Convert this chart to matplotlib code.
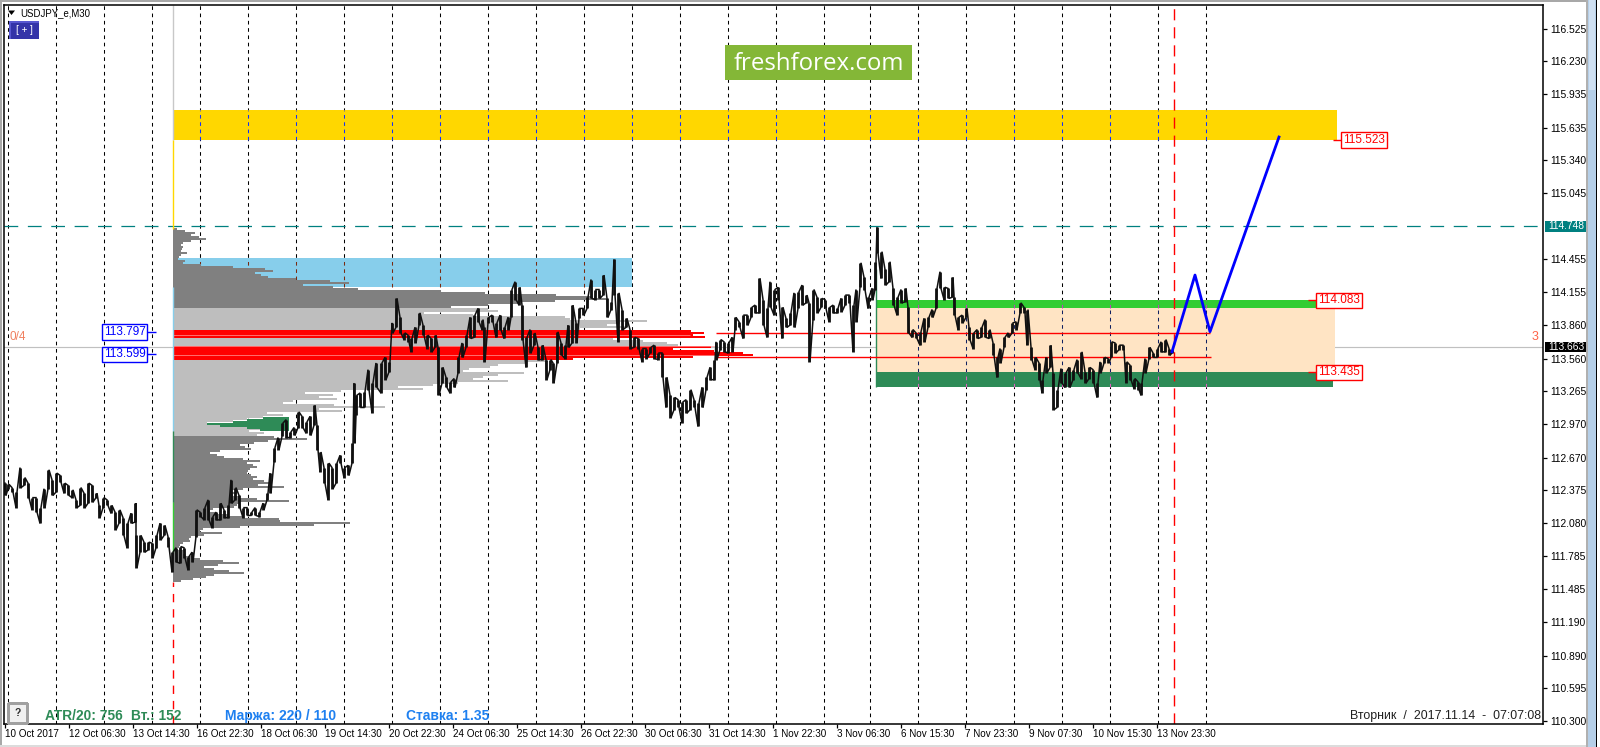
"""
USDJPY_e M30 terminal screenshot: price line, volume profile, zones and forecast.
"""
import numpy as np
import matplotlib
matplotlib.use("Agg")
import matplotlib.pyplot as plt
from matplotlib.patches import Rectangle, Polygon

plt.rcParams["font.family"] = ["Liberation Sans", "DejaVu Sans"]

W, H = 1600, 747

# ================================================
# Data
# ================================================
bar_x = [5, 8, 12, 16, 20, 24, 28, 32, 36, 40,
         44, 48, 52, 56, 60, 64, 68, 72, 76, 80,
         84, 88, 92, 96, 99, 103, 107, 111, 115, 119,
         123, 127, 131, 135, 136, 140, 144, 148, 152, 156,
         160, 164, 168, 172, 176, 180, 184, 188, 192, 196,
         200, 204, 208, 212, 216, 220, 224, 228, 231, 235,
         239, 243, 247, 251, 255, 259, 263, 267, 270, 274,
         278, 282, 286, 290, 294, 298, 302, 306, 310, 314,
         317, 320, 324, 328, 332, 336, 340, 344, 348, 352,
         354, 356, 360, 364, 368, 372, 376, 381, 385, 389,
         392, 396, 400, 404, 408, 411, 415, 419, 423, 427,
         431, 435, 438, 442, 446, 450, 454, 458, 462, 466,
         470, 474, 478, 482, 484, 488, 492, 496, 500, 504,
         508, 511, 515, 519, 522, 526, 530, 534, 538, 542,
         546, 550, 553, 557, 561, 565, 568, 572, 576, 579,
         583, 587, 591, 595, 599, 603, 607, 611, 614, 618,
         622, 626, 630, 634, 638, 642, 646, 650, 654, 658,
         662, 666, 670, 674, 678, 682, 686, 690, 694, 698,
         702, 706, 710, 714, 716, 720, 724, 728, 732, 735,
         739, 743, 747, 751, 755, 759, 763, 767, 770, 774,
         778, 782, 786, 790, 794, 798, 802, 806, 809, 813,
         817, 821, 825, 829, 833, 837, 841, 845, 849, 853,
         856, 860, 864, 868, 872, 875, 877, 881, 885, 889,
         893, 897, 901, 905, 908, 912, 916, 920, 924, 928,
         932, 936, 940, 944, 948, 952, 954, 958, 962, 966,
         969, 973, 977, 981, 985, 989, 993, 997, 1000, 1004,
         1008, 1012, 1016, 1020, 1024, 1027, 1031, 1035, 1039, 1042,
         1046, 1050, 1053, 1057, 1061, 1065, 1069, 1073, 1077, 1081,
         1085, 1089, 1093, 1097, 1100, 1104, 1108, 1111, 1115, 1119,
         1123, 1126, 1130, 1134, 1138, 1141, 1145, 1149, 1153, 1157,
         1161, 1165, 1169, 1172]
bar_high = [112.44, 112.43, 112.40, 112.36, 112.58, 112.49, 112.44, 112.31, 112.31, 112.22,
            112.39, 112.56, 112.47, 112.53, 112.51, 112.44, 112.42, 112.38, 112.29, 112.40,
            112.35, 112.44, 112.42, 112.35, 112.24, 112.31, 112.29, 112.24, 112.18, 112.20,
            112.13, 112.08, 112.17, 112.26, 111.97, 111.97, 111.91, 111.91, 111.90, 111.97,
            112.08, 112.06, 111.96, 111.82, 111.86, 111.87, 111.86, 111.78, 111.82, 112.20,
            112.18, 112.22, 112.29, 112.14, 112.18, 112.26, 112.20, 112.24, 112.47, 112.40,
            112.33, 112.22, 112.22, 112.18, 112.22, 112.18, 112.26, 112.35, 112.53, 112.76,
            112.85, 112.98, 113.01, 112.90, 112.94, 113.08, 113.04, 112.99, 113.04, 113.14,
            112.96, 112.72, 112.58, 112.62, 112.58, 112.62, 112.69, 112.58, 112.60, 112.80,
            113.34, 113.23, 113.25, 113.26, 113.46, 113.34, 113.52, 113.52, 113.57, 113.53,
            113.88, 114.10, 113.93, 113.79, 113.77, 113.74, 113.84, 113.97, 113.86, 113.77,
            113.74, 113.77, 113.66, 113.48, 113.39, 113.35, 113.38, 113.57, 113.70, 113.77,
            113.93, 113.95, 114.01, 113.91, 113.84, 113.93, 113.95, 113.88, 113.95, 113.84,
            113.93, 114.18, 114.25, 114.20, 114.04, 113.75, 113.82, 113.79, 113.66, 113.68,
            113.55, 113.55, 113.52, 113.80, 113.70, 113.68, 113.86, 114.04, 113.88, 114.01,
            114.01, 114.11, 114.27, 114.18, 114.18, 114.31, 114.10, 114.07, 114.45, 114.15,
            114.00, 113.92, 113.82, 113.75, 113.74, 113.65, 113.65, 113.66, 113.68, 113.61,
            113.61, 113.39, 113.23, 113.21, 113.19, 113.17, 113.19, 113.28, 113.19, 113.16,
            113.30, 113.39, 113.48, 113.55, 113.71, 113.73, 113.71, 113.70, 113.75, 113.93,
            113.89, 113.95, 113.95, 114.02, 114.04, 114.28, 114.09, 114.01, 114.25, 114.18,
            114.20, 114.02, 113.92, 113.97, 114.15, 114.16, 114.22, 114.13, 114.06, 114.18,
            114.11, 114.10, 114.09, 114.02, 114.04, 114.01, 114.10, 114.13, 114.13, 114.04,
            114.18, 114.42, 114.29, 114.11, 114.19, 114.43, 114.74, 114.52, 114.36, 114.43,
            114.19, 114.11, 114.18, 114.19, 114.02, 113.82, 113.79, 113.80, 113.92, 113.93,
            114.00, 114.19, 114.34, 114.20, 114.19, 114.29, 114.11, 113.93, 113.95, 114.01,
            113.84, 113.79, 113.82, 113.84, 113.91, 113.82, 113.70, 113.57, 113.65, 113.75,
            113.79, 113.88, 113.89, 114.06, 114.02, 114.00, 113.66, 113.57, 113.52, 113.37,
            113.57, 113.68, 113.43, 113.28, 113.47, 113.43, 113.48, 113.46, 113.55, 113.62,
            113.44, 113.48, 113.46, 113.34, 113.53, 113.57, 113.56, 113.71, 113.70, 113.68,
            113.68, 113.53, 113.50, 113.38, 113.35, 113.34, 113.56, 113.66, 113.61, 113.65,
            113.71, 113.73, 113.65, 113.64]
bar_low = [112.33, 112.39, 112.36, 112.22, 112.40, 112.42, 112.31, 112.20, 112.18, 112.08,
           112.22, 112.39, 112.33, 112.36, 112.45, 112.35, 112.33, 112.31, 112.22, 112.24,
           112.22, 112.26, 112.27, 112.31, 112.13, 112.22, 112.24, 112.17, 112.02, 112.08,
           111.97, 111.86, 112.08, 112.09, 111.68, 111.82, 111.82, 111.84, 111.77, 111.86,
           111.93, 111.97, 111.87, 111.64, 111.73, 111.72, 111.77, 111.66, 111.73, 111.96,
           112.14, 112.11, 112.11, 112.04, 112.11, 112.11, 112.13, 112.13, 112.26, 112.29,
           112.22, 112.13, 112.15, 112.15, 112.15, 112.14, 112.20, 112.29, 112.35, 112.63,
           112.74, 112.86, 112.85, 112.85, 112.87, 112.94, 112.94, 112.89, 112.87, 112.96,
           112.74, 112.54, 112.44, 112.29, 112.39, 112.44, 112.62, 112.49, 112.51, 112.62,
           112.80, 113.05, 113.12, 113.12, 113.28, 113.07, 113.30, 113.25, 113.37, 113.44,
           113.79, 113.84, 113.79, 113.73, 113.71, 113.62, 113.70, 113.86, 113.77, 113.65,
           113.62, 113.66, 113.23, 113.34, 113.30, 113.25, 113.30, 113.43, 113.57, 113.66,
           113.74, 113.75, 113.89, 113.82, 113.53, 113.88, 113.89, 113.75, 113.82, 113.74,
           113.82, 113.93, 114.09, 114.04, 113.73, 113.48, 113.61, 113.68, 113.55, 113.55,
           113.37, 113.46, 113.34, 113.52, 113.59, 113.56, 113.66, 113.70, 113.70, 113.92,
           113.95, 114.01, 114.10, 114.09, 114.10, 114.13, 113.93, 114.00, 114.13, 113.71,
           113.82, 113.84, 113.65, 113.66, 113.65, 113.53, 113.56, 113.61, 113.56, 113.55,
           113.39, 113.12, 113.03, 113.10, 113.12, 112.98, 113.07, 113.10, 113.12, 112.95,
           113.12, 113.28, 113.37, 113.37, 113.55, 113.64, 113.62, 113.61, 113.62, 113.82,
           113.84, 113.74, 113.86, 113.93, 113.97, 113.97, 113.86, 113.75, 114.02, 113.95,
           114.09, 113.74, 113.84, 113.86, 113.84, 114.01, 114.04, 114.06, 113.53, 113.91,
           113.97, 114.02, 114.01, 113.89, 113.97, 113.97, 113.98, 114.04, 114.06, 113.62,
           113.89, 114.20, 114.18, 114.01, 114.09, 114.18, 114.51, 114.28, 114.22, 114.25,
           114.04, 113.95, 114.06, 114.07, 113.79, 113.75, 113.74, 113.68, 113.71, 113.84,
           113.93, 114.01, 114.19, 114.09, 114.10, 114.11, 113.95, 113.82, 113.88, 113.93,
           113.73, 113.65, 113.74, 113.75, 113.75, 113.74, 113.59, 113.39, 113.52, 113.66,
           113.75, 113.79, 113.82, 113.97, 113.97, 113.68, 113.55, 113.46, 113.37, 113.25,
           113.43, 113.48, 113.10, 113.12, 113.34, 113.30, 113.30, 113.37, 113.43, 113.38,
           113.34, 113.38, 113.34, 113.21, 113.43, 113.52, 113.52, 113.57, 113.61, 113.64,
           113.64, 113.34, 113.37, 113.29, 113.28, 113.23, 113.43, 113.56, 113.57, 113.57,
           113.62, 113.62, 113.59, 113.61]

# volume profile, one row per price level from the top of the range
profile_top = 114.7235
profile_step = 0.01797
profile_width = [
    4, 12, 22, 18, 26, 33, 18, 10, 8, 10, 9, 8, 14, 8, 6, 5, 12, 10, 28, 60,
    92, 100, 82, 88, 95, 123, 157, 176, 130, 160, 185, 268, 312, 383, 418, 433, 382, 345, 315, 278,
    315, 325, 251, 300, 392, 397, 474, 447, 434, 454, 407, 518, 531, 520, 532, 440, 470, 494, 505, 538,
    500, 541, 570, 580, 520, 400, 375, 353, 325, 317, 296, 290, 351, 325, 310, 300, 335, 285, 260, 225,
    250, 168, 132, 160, 146, 164, 120, 110, 161, 212, 146, 169, 94, 110, 90, 74, 60, 34, 47, 74,
    87, 76, 91, 84, 101, 134, 95, 81, 67, 72, 78, 47, 37, 44, 51, 70, 87, 74, 80, 84,
    77, 75, 74, 78, 84, 80, 91, 97, 85, 111, 70, 59, 64, 60, 67, 84, 116, 67, 64, 61,
    40, 37, 43, 55, 71, 106, 107, 177, 141, 67, 30, 27, 49, 31, 18, 16, 17, 10, 7, 6,
    4, 10, 10, 12, 20, 27, 50, 66, 45, 31, 41, 56, 71, 41, 33, 20, 8]
# green block at the right of the 112.99-ish rows
green_price = [113.03, 113.012, 112.994, 112.976, 112.958, 112.94, 112.922]
green_width = [26, 42, 56, 82, 69, 42, 29]
green_offset = [90, 74, 60, 34, 47, 74, 87]
poc_gap_price = [113.77, 113.67, 113.59]

# rectangular zones
zone_left = [172.5, 172.5, 876, 876, 876]
zone_right = [1336.7, 632, 1335, 1335, 1332.7]
zone_high = [115.793, 114.466, 114.016, 114.083, 113.435]
zone_low = [115.525, 114.205, 113.435, 114.016, 113.30]
zone_color = ["#FFD700", "#87CEEB", "#FFE4C4", "#32CD32", "#2E8B57"]
zone_grid_color = ["#1030FF", "#7A2A10", "#102060", "#C040C0", "#E060C0"]

# forecast line
forecast_x = [1172, 1195, 1210, 1279]
forecast_price = [113.621, 114.31, 113.801, 115.55]

# segments of the profile start line
start_high = [116.74, 115.525, 114.205, 112.91, 112.27]
start_low = [115.525, 114.72, 112.91, 112.27, 111.82]
start_color = ["#C8C8C8", "#FFD700", "#87CEEB", "#2E8B57", "#32CD32"]

# level labels
level_price = [115.523, 114.083, 113.435]
level_text = ["115.523", "114.083", "113.435"]
left_level_price = [113.797, 113.599]
left_level_text = ["113.797", "113.599"]
red_line_price = [113.786, 113.571]

ytick_vals = [116.525, 116.230, 115.935, 115.635, 115.340, 115.045, 114.455, 114.155,
              113.860, 113.560, 113.265, 112.970, 112.670, 112.375, 112.080, 111.785,
              111.485, 111.190, 110.890, 110.595, 110.300]
xtick_labels = ["10 Oct 2017", "12 Oct 06:30", "13 Oct 14:30", "16 Oct 22:30", "18 Oct 06:30",
                "19 Oct 14:30", "20 Oct 22:30", "24 Oct 06:30", "25 Oct 14:30", "26 Oct 22:30",
                "30 Oct 06:30", "31 Oct 14:30", "1 Nov 22:30", "3 Nov 06:30", "6 Nov 15:30",
                "7 Nov 23:30", "9 Nov 07:30", "10 Nov 15:30", "13 Nov 23:30"]
current_price = 113.663
high_price = 114.748

# ================================================
# Figure, axes in bar/price units
# ================================================
fig = plt.figure(figsize=(W / 100, H / 100), dpi=100, facecolor="white")
ax = fig.add_axes([4 / W, 1 - 724 / H, (1543 - 4) / W, (724 - 4.5) / H])
ax.set_xlim(4, 1543)
ax.set_ylim(110.276, 116.741)
for s in ax.spines.values():
    s.set_linewidth(1.1)
    s.set_color("black")
    s.set_zorder(20)


def chrome(x0, y0, x1, y1, color, **kw):
    # window furniture in screen pixels
    fig.add_artist(Rectangle((x0 / W, 1 - y1 / H), (x1 - x0) / W, (y1 - y0) / H,
                             transform=fig.transFigure, fc=color, ec=kw.pop("ec", "none"),
                             lw=kw.pop("lw", 0), antialiased=False, **kw))


def screen_text(x, y, s, **kw):
    fig.text(x / W, 1 - y / H, s, va="center", **kw)


# grid
grid_dash = (0, (3.5, 3.5))
grid_x = np.r_[np.arange(8, 825, 48), 870, np.arange(918, 1207, 48)]
ax.vlines(grid_x, 110.276, 116.741, color="black", lw=0.75, linestyles=grid_dash, zorder=1)

# current price and high level
ax.axhline(current_price, color="#C0C0C0", lw=0.85, zorder=1.5)
ax.axhline(high_price, color="#008080", lw=0.9, dashes=(11, 7.7), zorder=1.5)

# zones, with the grid showing through in another colour
for i in range(len(zone_left)):
    ax.add_patch(Rectangle((zone_left[i], zone_low[i]), zone_right[i] - zone_left[i],
                           zone_high[i] - zone_low[i], fc=zone_color[i], ec="none",
                           antialiased=False, zorder=2))
    inside = grid_x[(grid_x > zone_left[i]) & (grid_x < zone_right[i])]
    ax.vlines(inside, zone_low[i], zone_high[i], color=zone_grid_color[i], lw=0.75,
              linestyles=grid_dash, zorder=2.2)

# volume profile
profile_width = np.array(profile_width, dtype=float)
profile_price = profile_top - profile_step * np.arange(len(profile_width))
row_color = np.full(len(profile_width), "#BEBEBE", dtype=object)
row_color[(profile_price > 114.02) | (profile_price < 112.864)] = "#808080"
row_color[((profile_price < 113.815) & (profile_price > 113.74))
          | ((profile_price < 113.675) & (profile_price > 113.555))] = "#FF0000"
ax.barh(profile_price, profile_width, left=172.5, height=profile_step * 1.02, color=list(row_color),
        antialiased=False, zorder=3)
ax.barh(green_price, green_width, left=172.5 + np.array(green_offset), height=profile_step,
        color="#2E8B57", antialiased=False, zorder=3.1)
ax.hlines(poc_gap_price, 173, [690, 715, 715], color="#FF9A9A", lw=0.5, zorder=3.2)

# start line of the profile
ax.vlines([172.5] * len(start_high), start_low, start_high, colors=start_color, lw=1.0, zorder=3.5)
ax.vlines(172.5, 110.276, 111.55, color="#FF0000", lw=1.0, linestyles=(0, (6, 5)), zorder=3.5)
ax.vlines(876, 113.30, 114.36, color="#2E8B57", lw=1.0, zorder=3.5)
ax.vlines(1174, 110.276, 116.741, color="#FF0000", lw=1.0, linestyles=(0, (8, 5)), zorder=3.5)

# red horizontal levels
ax.hlines(red_line_price, [716, 716], [1210, 1211], color="#FF0000", lw=1.0, zorder=4)

# price, each reading drawn as a high-low stroke
path_x, path_y = [], []
for i in range(len(bar_x)):
    pair = (bar_high[i], bar_low[i]) if i % 2 == 0 else (bar_low[i], bar_high[i])
    path_x += [bar_x[i], bar_x[i] + 1]
    path_y += list(pair)
ax.plot(path_x, path_y, color="#101010", lw=1.1, solid_joinstyle="miter", zorder=5)
ax.vlines(bar_x, bar_low, bar_high, color="#101010", lw=2.0, zorder=5)

# forecast
ax.plot(forecast_x, forecast_price, color="#0000FF", lw=2.0, zorder=6)

# red level labels on the right
for p, s, x0 in zip(level_price, level_text, [1333, 1308, 1308]):
    ax.hlines(p, x0, x0 + 10, color="#FF0000", lw=1.0, zorder=7)
    ax.text(x0 + 31, p, s, color="#FF0000", fontsize=8.5, ha="center", va="center", zorder=8,
            bbox=dict(boxstyle="square,pad=0.14", fc="white", ec="#FF0000", lw=1.0))

# blue level labels on the left
for p, s in zip(left_level_price, left_level_text):
    ax.hlines(p, 146, 156, color="#0000FF", lw=1.0, zorder=7)
    ax.text(124.5, p, s, color="#0000FF", fontsize=8.5, ha="center", va="center", zorder=8,
            bbox=dict(boxstyle="square,pad=0.14", fc="white", ec="#0000FF", lw=1.0))

# axis ticks
ax.yaxis.tick_right()
ax.set_yticks(ytick_vals)
ax.set_yticklabels([f"{v:.3f}" for v in ytick_vals], fontsize=7.4, color="black")
ax.tick_params(axis="y", length=3, width=0.9, pad=2)
xtick_pos = 5 + 64 * np.arange(len(xtick_labels))
ax.set_xticks(xtick_pos)
ax.set_xticklabels(xtick_labels, fontsize=7.1, ha="left", color="black")
ax.tick_params(axis="x", length=3, width=0.9, pad=0.8)

# current price and high boxes sit on the price scale
for p, s, c in [(high_price, "114.748", "#008080"), (current_price, "113.663", "black")]:
    ax.add_patch(Rectangle((1545, p - 0.048), 41, 0.096, fc=c, ec="none", clip_on=False, zorder=9))
    ax.text(1566, p, s, color="white", fontsize=7.4, ha="center", va="center", clip_on=False, zorder=10)

# ================================================
# Texts and window furniture
# ================================================
screen_text(20, 13, "USDJPY_e,M30", fontsize=6.9, color="black")
fig.add_artist(Polygon([(8 / W, 1 - 10.5 / H), (15 / W, 1 - 10.5 / H), (11.5 / W, 1 - 15 / H)],
                       transform=fig.transFigure, fc="black", ec="none"))
chrome(9, 21, 39, 39, "#5858D0")
chrome(11, 23, 39, 39, "#3434A8")
screen_text(24, 30, "[ + ]", fontsize=7, color="white", ha="center")

chrome(725, 45, 912, 80, "#84B737")
screen_text(818.5, 64, "freshforex.com", fontsize=17.3, color="white", ha="center", family="Open Sans")

screen_text(10, 337, "0/4", fontsize=8.5, color="#F08060")
screen_text(1532, 337, "3", fontsize=9, color="#FF6347")

chrome(8, 703, 27, 723, "#F0F0F0", ec="#A0A0A0", lw=0.8)
screen_text(17.5, 713, "?", fontsize=7.5, color="#303030", ha="center", weight="bold")
screen_text(45, 716, "ATR/20: 756", fontsize=9.9, color="#2E8B57", weight="bold")
screen_text(131, 716, "Вт.: 152", fontsize=9.9, color="#2E8B57", weight="bold")
screen_text(225, 716, "Маржа: 220 / 110", fontsize=10, color="#1E80F0", weight="bold")
screen_text(406, 716, "Ставка: 1.35", fontsize=10, color="#1E80F0", weight="bold")
screen_text(1350, 716, "Вторник  /  2017.11.14  -  07:07:08", fontsize=8.9, color="#202020")

# outer frame and scrollbar strip
chrome(0, 0, 2, 747, "#A8A8A8")
chrome(0, 0, 1587, 1.5, "#A8A8A8")
chrome(0, 745, 1587, 747, "#DCDCDC")
chrome(1586, 0, 1587.5, 747, "#B0B0B0")
chrome(1588, 0, 1596, 747, "#B5CFE8")
chrome(1589, 0, 1595, 90, "#CFE0F2")
chrome(1596, 0, 1597, 747, "#000000")

fig.savefig("out.png", dpi=100)
